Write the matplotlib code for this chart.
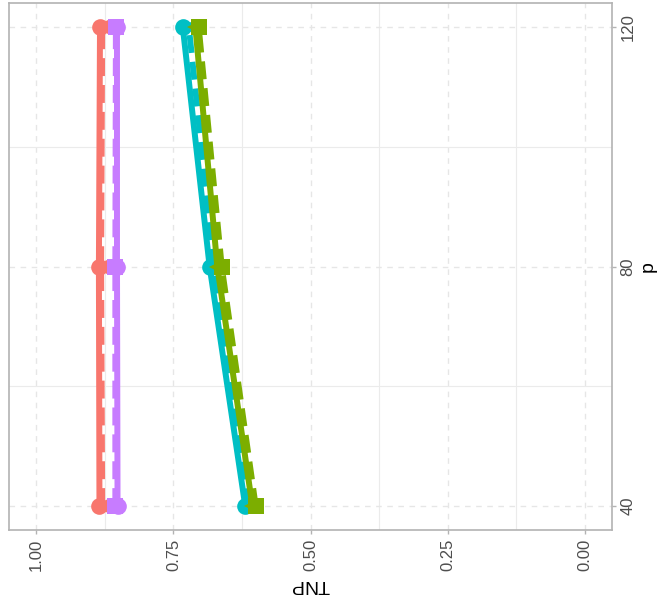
import matplotlib
matplotlib.use("Agg")
import matplotlib.pyplot as plt
from matplotlib.ticker import MultipleLocator

plt.rcParams["font.family"] = ["Liberation Sans", "DejaVu Sans"]

p = [40, 80, 120]
# TNP values per series (color group, linetype)
red_solid = [0.885, 0.886, 0.884]
red_dashed = [0.880, 0.882, 0.880]
purple_solid = [0.852, 0.853, 0.853]
purple_dashed = [0.856, 0.856, 0.855]
cyan_solid = [0.619, 0.684, 0.733]
cyan_dashed = [0.612, 0.676, 0.722]
green_solid = [0.606, 0.670, 0.710]
green_dashed = [0.600, 0.662, 0.704]

series = [
    (red_solid, "#F8766D", "-", "o"),
    (red_dashed, "#F8766D", (0, (3, 1.5)), "<"),
    (purple_solid, "#C77CFF", "-", "o"),
    (purple_dashed, "#C77CFF", (0, (3, 1.5)), "s"),
    (cyan_solid, "#00BFC4", "-", "o"),
    (cyan_dashed, "#00BFC4", (0, (3, 1.5)), "<"),
    (green_solid, "#7CAE00", "-", "<"),
    (green_dashed, "#7CAE00", (0, (3, 1.5)), "s"),
]

fig = plt.figure(figsize=(6.6, 6.09), dpi=100)
ax = fig.add_axes([9 / 660, 1 - 530 / 609, (612 - 9) / 660, (530 - 3) / 609])

for vals, col, ls, mk in series:
    ax.plot(vals, p, color=col, linestyle=ls, linewidth=4.3, marker=mk,
            markersize=12, markeredgewidth=0, zorder=3)

ax.set_xlim(1.05, -0.05)
ax.set_ylim(36, 124)
ax.set_xticks([1.00, 0.75, 0.50, 0.25, 0.00])
ax.set_xticklabels(["1.00", "0.75", "0.50", "0.25", "0.00"], rotation=90,
                   color="#4D4D4D", fontsize=12)
ax.set_yticks([40, 80, 120])
ax.set_yticklabels(["40", "80", "120"], rotation=90, va="center",
                   color="#4D4D4D", fontsize=12)
ax.xaxis.set_minor_locator(MultipleLocator(0.125))
ax.yaxis.set_minor_locator(MultipleLocator(20))
ax.yaxis.tick_right()
ax.yaxis.set_label_position("right")

ax.grid(which="major", color="#E6E6E6", linestyle=(0, (4, 4)), linewidth=1.0)
ax.grid(which="minor", color="#EBEBEB", linestyle="-", linewidth=0.8)
ax.set_axisbelow(True)
ax.tick_params(which="major", length=3, color="#B3B3B3", width=1, pad=3)
ax.tick_params(which="minor", length=0)
for s in ax.spines.values():
    s.set_color("#B3B3B3")
    s.set_linewidth(1.2)

ax.set_xlabel("TNP", rotation=180, fontsize=14, color="black", labelpad=4)
ax.set_ylabel("p", rotation=90, fontsize=14, color="black", labelpad=3)

fig.savefig("out.png", dpi=100)
